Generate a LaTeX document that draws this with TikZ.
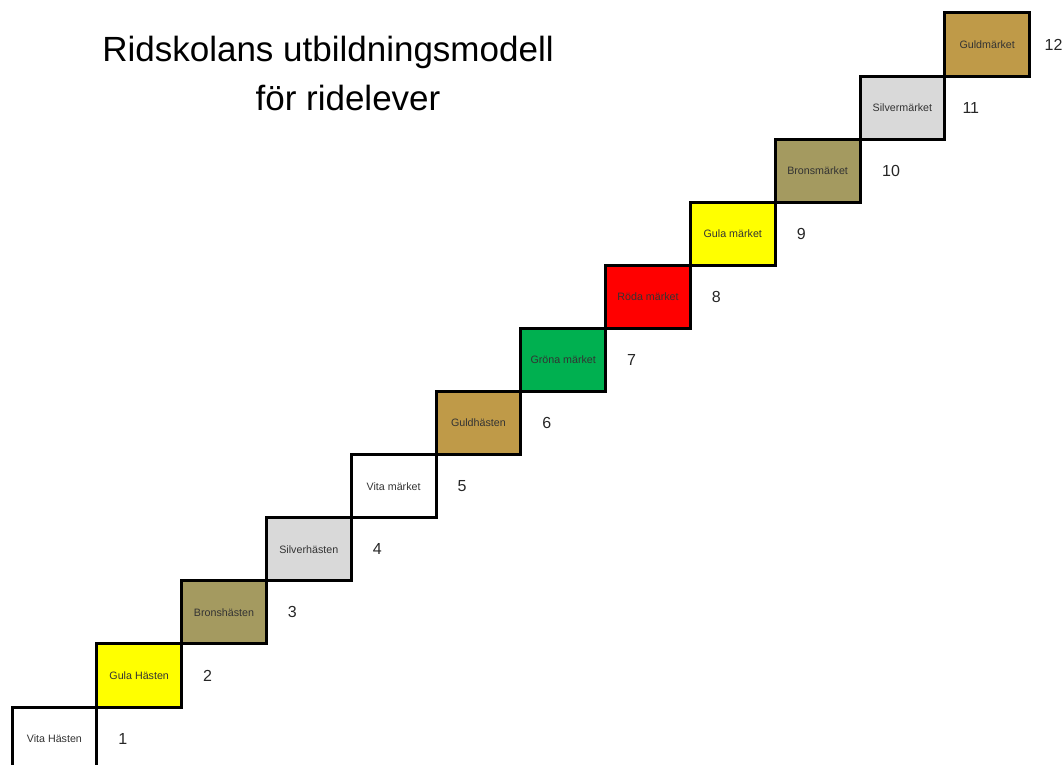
\documentclass[tikz,border=0pt]{standalone}
\usepackage{fontspec}
\setmainfont{Liberation Sans}
\usetikzlibrary{positioning}
\definecolor{brons}{RGB}{164,154,96}
\definecolor{guld}{RGB}{191,154,72}
\definecolor{silver}{RGB}{217,217,217}
\definecolor{gron}{RGB}{0,176,80}
\definecolor{rod}{RGB}{255,0,0}
\definecolor{gul}{RGB}{255,255,0}
\tikzset{
stepbox/.style={draw=black, line width=3pt, minimum width=84.8pt,
    minimum height=63.1pt, inner sep=0pt, outer sep=0pt,
    text=black!80, font=\fontsize{10.7}{12}\selectfont},
stepnr/.style={font=\fontsize{16}{18}\selectfont, text=black!85}
}

\begin{document}
\begin{tikzpicture}[x=1pt,y=-1pt]
\useasboundingbox (0,0) rectangle (1063,764);
\clip (0,0) rectangle (1063,764);

\node[font=\fontsize{35}{40}\selectfont, anchor=base] (title) at (328,61) {Ridskolans utbildningsmodell};
\node[font=\fontsize{35}{40}\selectfont, anchor=base] (subtitle) at (348,110) {för ridelever};

\node[stepbox, fill=white] (b1) at (54.4,738.6) {Vita Hästen};
\node[stepbox, fill=gul, above right=0pt of b1.north east] (b2) {Gula Hästen};
\node[stepbox, fill=brons, above right=0pt of b2.north east] (b3) {Bronshästen};
\node[stepbox, fill=silver, above right=0pt of b3.north east] (b4) {Silverhästen};
\node[stepbox, fill=white, above right=0pt of b4.north east] (b5) {Vita märket};
\node[stepbox, fill=guld, above right=0pt of b5.north east] (b6) {Guldhästen};
\node[stepbox, fill=gron, above right=0pt of b6.north east] (b7) {Gröna märket};
\node[stepbox, fill=rod, above right=0pt of b7.north east] (b8) {Röda märket};
\node[stepbox, fill=gul, above right=0pt of b8.north east] (b9) {Gula märket};
\node[stepbox, fill=brons, above right=0pt of b9.north east] (b10) {Bronsmärket};
\node[stepbox, fill=silver, above right=0pt of b10.north east] (b11) {Silvermärket};
\node[stepbox, fill=guld, above right=0pt of b11.north east] (b12) {Guldmärket};

\node[stepnr] (n1) at ([xshift=26pt]b1.east) {1};
\node[stepnr] (n2) at ([xshift=26pt]b2.east) {2};
\node[stepnr] (n3) at ([xshift=26pt]b3.east) {3};
\node[stepnr] (n4) at ([xshift=26pt]b4.east) {4};
\node[stepnr] (n5) at ([xshift=26pt]b5.east) {5};
\node[stepnr] (n6) at ([xshift=26pt]b6.east) {6};
\node[stepnr] (n7) at ([xshift=26pt]b7.east) {7};
\node[stepnr] (n8) at ([xshift=26pt]b8.east) {8};
\node[stepnr] (n9) at ([xshift=26pt]b9.east) {9};
\node[stepnr] (n10) at ([xshift=31pt]b10.east) {10};
\node[stepnr] (n11) at ([xshift=26pt]b11.east) {11};
\node[stepnr] (n12) at ([xshift=24pt]b12.east) {12};
\end{tikzpicture}
\end{document}
